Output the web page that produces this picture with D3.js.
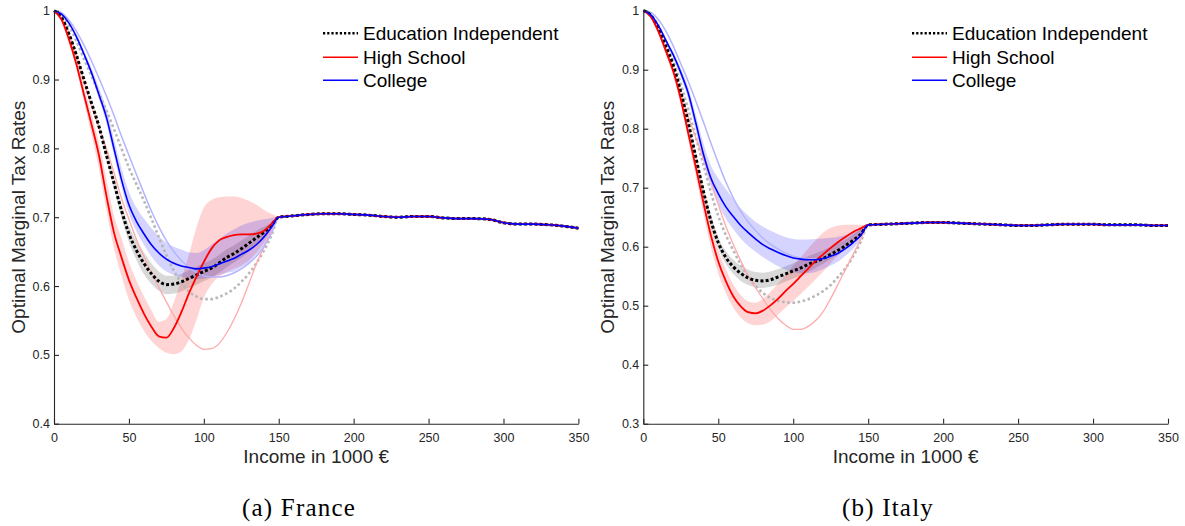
<!DOCTYPE html>
<html>
<head>
<meta charset="utf-8">
<script src="https://cdn.jsdelivr.net/npm/d3@7"></script>
<style>
  html, body { margin: 0; padding: 0; background: #fff; }
  svg { display: block; }
  text { font-family: "Liberation Sans", Arial, Helvetica, sans-serif; }
</style>
</head>
<body>
<svg id="chart" width="1185" height="526"></svg>
<script>
// Income grid (thousand euro) where the schedules differ, and the common upper tail
const incomeHead = [0, 5, 10, 15, 20, 25, 30, 35, 40, 45, 50, 55, 60, 65, 70, 75, 80, 85, 90, 95, 100, 105, 110, 115, 120, 125, 130, 135, 140, 145, 150];
const incomeTail = [160, 170, 180, 190, 200, 210, 220, 230, 240, 250, 260, 270, 280, 290, 300, 310, 320, 330, 340, 350];

const xTicks = [0, 50, 100, 150, 200, 250, 300, 350];
const yTicksFrance = [0.4, 0.5, 0.6, 0.7, 0.8, 0.9, 1];
const yTicksItaly = [0.3, 0.4, 0.5, 0.6, 0.7, 0.8, 0.9, 1];

const legendLabels = ["Education Independent", "High School", "College"];
const panelCaptions = ["(a) France", "(b) Italy"];
const xAxisTitle = "Income in 1000 €";
const yAxisTitle = "Optimal Marginal Tax Rates";

// ---- France ----
const frTail = [0.702, 0.704, 0.705, 0.705, 0.704, 0.703, 0.701, 0.700, 0.701, 0.701, 0.699, 0.698, 0.698, 0.697, 0.692, 0.690, 0.690, 0.689, 0.687, 0.684];
const frEduIndep = [1, .99, .966, .935, .9, .866, .832, .79, .75, .71, .676, .652, .633, .618, .607, .602, .603, .606, .611, .616, .621, .626, .633, .641, .647, .654, .662, .67, .678, .688, .70];
const frHighSchool = [1, .987, .958, .922, .878, .835, .79, .731, .678, .642, .609, .583, .56, .541, .527, .525, .539, .562, .589, .613, .635, .654, .666, .671, .674, .675, .675, .676, .68, .69, .70];
const frCollege = [1, .995, .982, .962, .937, .91, .878, .845, .8, .755, .718, .694, .676, .66, .648, .639, .633, .629, .627, .625, .626, .628, .632, .636, .64, .646, .652, .66, .671, .685, .70];
// alternative scenario (faint curves)
const frEduIndepAlt = [1, .995, .978, .956, .93, .905, .88, .855, .828, .8, .772, .748, .724, .698, .671, .645, .622, .605, .592, .585, .581, .581, .584, .589, .596, .606, .618, .633, .651, .673, .70];
const frHighSchoolAlt = [1, .99, .967, .935, .898, .862, .83, .80, .765, .728, .697, .668, .643, .62, .598, .577, .557, .539, .525, .514, .508, .509, .516, .531, .551, .575, .603, .632, .656, .68, .70];
const frCollegeAlt = [1, .997, .986, .97, .95, .927, .902, .876, .848, .818, .79, .762, .735, .709, .686, .666, .65, .637, .627, .62, .615, .613, .613, .615, .619, .625, .633, .643, .657, .676, .70];
// confidence bands
const frEduIndepLo = [1, .99, .966, .935, .9, .864, .828, .784, .742, .7, .664, .638, .617, .603, .593, .588, .589, .592, .597, .602, .607, .612, .619, .627, .634, .641, .65, .659, .669, .684, .70];
const frEduIndepHi = [1, .99, .966, .935, .9, .868, .836, .796, .758, .72, .688, .666, .649, .633, .621, .615, .615, .618, .623, .628, .633, .638, .645, .653, .659, .666, .673, .68, .686, .692, .70];
const frHighSchoolLo = [1, .987, .955, .915, .868, .82, .77, .71, .655, .615, .58, .555, .535, .52, .51, .503, .501, .505, .522, .55, .583, .602, .613, .62, .625, .63, .637, .648, .662, .68, .70];
const frHighSchoolHi = [1, .988, .962, .93, .89, .85, .808, .755, .703, .67, .635, .608, .585, .565, .548, .552, .577, .61, .645, .685, .714, .725, .729, .730, .730, .728, .724, .718, .711, .705, .70];
const frCollegeLo = [1, .995, .981, .96, .934, .905, .872, .836, .79, .745, .705, .68, .66, .643, .63, .621, .616, .613, .611, .61, .611, .613, .616, .619, .621, .627, .634, .645, .658, .677, .70];
const frCollegeHi = [1, .996, .984, .966, .942, .917, .888, .857, .814, .772, .737, .714, .698, .684, .672, .663, .657, .653, .649, .648, .652, .66, .668, .676, .682, .688, .692, .695, .697, .699, .70];

// ---- Italy ----
const itTail = [0.638, 0.639, 0.640, 0.641, 0.641, 0.640, 0.639, 0.638, 0.637, 0.636, 0.636, 0.637, 0.638, 0.638, 0.638, 0.637, 0.637, 0.637, 0.636, 0.636];
const itEduIndep = [1, .992, .97, .94, .907, .862, .81, .752, .695, .645, .607, .582, .566, .555, .547, .543, .542, .544, .549, .554, .559, .564, .57, .575, .58, .587, .594, .602, .611, .621, .637];
const itHighSchool = [1, .99, .965, .932, .897, .85, .792, .735, .676, .62, .575, .542, .516, .499, .489, .487, .492, .501, .512, .525, .537, .55, .563, .576, .587, .598, .608, .617, .625, .631, .637];
const itCollege = [1, .993, .975, .95, .925, .895, .86, .81, .758, .717, .69, .668, .651, .636, .624, .613, .603, .596, .59, .585, .581, .579, .578, .578, .58, .584, .589, .597, .607, .619, .637];
const itEduIndepAlt = [1, .993, .975, .948, .915, .876, .832, .786, .74, .693, .652, .62, .594, .57, .549, .533, .521, .513, .508, .506, .505, .507, .511, .517, .525, .535, .549, .564, .584, .608, .637];
const itHighSchoolAlt = [1, .99, .968, .937, .9, .86, .82, .785, .75, .713, .672, .635, .604, .576, .551, .53, .511, .493, .478, .467, .46, .46, .465, .475, .49, .512, .537, .562, .587, .612, .637];
const itCollegeAlt = [1, .997, .985, .966, .94, .91, .88, .847, .812, .776, .742, .71, .683, .66, .642, .627, .614, .604, .596, .589, .584, .581, .579, .579, .58, .583, .589, .597, .607, .619, .637];
const itEduIndepLo = [1, .992, .97, .94, .906, .86, .806, .746, .687, .636, .597, .571, .554, .542, .535, .531, .53, .532, .536, .541, .546, .551, .557, .564, .571, .579, .587, .596, .606, .618, .637];
const itEduIndepHi = [1, .992, .97, .94, .908, .864, .814, .758, .703, .654, .617, .593, .578, .568, .561, .557, .556, .558, .562, .567, .572, .578, .584, .589, .594, .6, .606, .612, .621, .63, .637];
const itHighSchoolLo = [1, .989, .962, .927, .89, .84, .78, .72, .658, .6, .555, .522, .497, .48, .47, .467, .468, .474, .485, .497, .508, .52, .532, .545, .558, .572, .585, .598, .61, .622, .637];
const itHighSchoolHi = [1, .991, .968, .937, .904, .86, .804, .75, .694, .64, .595, .562, .536, .518, .507, .505, .512, .524, .538, .553, .568, .582, .597, .611, .624, .632, .636, .637, .637, .637, .637];
const itCollegeLo = [1, .993, .974, .948, .92, .888, .85, .797, .745, .702, .672, .648, .63, .614, .601, .591, .582, .574, .567, .561, .557, .555, .555, .557, .562, .568, .575, .585, .597, .612, .637];
const itCollegeHi = [1, .994, .977, .953, .93, .902, .87, .824, .776, .738, .716, .698, .681, .665, .653, .642, .634, .627, .621, .616, .613, .612, .612, .613, .614, .615, .617, .62, .624, .63, .637];

const svg = d3.select("#chart");
const AXIS_COLOR = "#262626";

function drawPanel(p) {
  const x = d3.scaleLinear().domain([0, 350]).range([p.left, p.right]);
  const y = d3.scaleLinear().domain(p.yDomain).range([p.bottom, p.top]);
  const g = svg.append("g");

  const fullX = incomeHead.concat(incomeTail);
  const line = d3.line().x(d => x(d[0])).y(d => y(d[1])).curve(d3.curveMonotoneX);
  const area = d3.area().x(d => x(d[0])).y0(d => y(d[1])).y1(d => y(d[2])).curve(d3.curveMonotoneX);
  const bandPts = (lo, hi) => incomeHead.map((v, i) => [v, lo[i], hi[i]]);
  const seriesPts = head => fullX.map((v, i) => [v, i < head.length ? head[i] : p.tail[i - head.length]]);

  // shaded bands
  g.append("path").attr("d", area(bandPts(p.eiLo, p.eiHi))).attr("fill", "#000").attr("fill-opacity", 0.15);
  g.append("path").attr("d", area(bandPts(p.hsLo, p.hsHi))).attr("fill", "#ff0000").attr("fill-opacity", 0.17);
  g.append("path").attr("d", area(bandPts(p.coLo, p.coHi))).attr("fill", "#0000ff").attr("fill-opacity", 0.17);

  // faint alternative curves
  g.append("path").attr("d", line(seriesPts(p.eiAlt))).attr("fill", "none")
    .attr("stroke", "#b8b8b8").attr("stroke-width", 2.6).attr("stroke-dasharray", "2.6,2.6");
  g.append("path").attr("d", line(seriesPts(p.hsAlt))).attr("fill", "none")
    .attr("stroke", "#ffaaaa").attr("stroke-width", 1.3);
  g.append("path").attr("d", line(seriesPts(p.coAlt))).attr("fill", "none")
    .attr("stroke", "#b4b4ff").attr("stroke-width", 1.5);

  // main curves
  g.append("path").attr("d", line(seriesPts(p.ei))).attr("fill", "none")
    .attr("stroke", "#000").attr("stroke-width", 3).attr("stroke-dasharray", "3,2.2");
  g.append("path").attr("d", line(seriesPts(p.hs))).attr("fill", "none")
    .attr("stroke", "#ff0000").attr("stroke-width", 1.8);
  g.append("path").attr("d", line(seriesPts(p.co))).attr("fill", "none")
    .attr("stroke", "#0000ff").attr("stroke-width", 1.6);

  // axes
  const xAxis = d3.axisBottom(x).tickValues(xTicks).tickSizeInner(-5).tickSizeOuter(0).tickPadding(9).tickFormat(d3.format("d"));
  const yAxis = d3.axisLeft(y).tickValues(p.yTicks).tickSizeInner(-5).tickSizeOuter(0).tickPadding(4)
    .tickFormat(d => d === 1 ? "1" : d3.format(".1f")(d));
  const gx = g.append("g").attr("transform", `translate(0,${p.bottom})`).call(xAxis);
  const gy = g.append("g").attr("transform", `translate(${p.left},0)`).call(yAxis);
  [gx, gy].forEach(a => {
    a.selectAll("path, line").attr("stroke", AXIS_COLOR).attr("stroke-width", 1.1);
    a.selectAll("text").attr("fill", AXIS_COLOR).style("font-size", "12.5px")
      .style("font-family", "'Liberation Sans', Arial, sans-serif");
  });

  // axis titles
  g.append("text").attr("x", (p.left + p.right) / 2).attr("y", 463.3)
    .attr("text-anchor", "middle").attr("fill", AXIS_COLOR).style("font-size", "19px").text(xAxisTitle);
  g.append("text").attr("transform", `translate(${p.left - 29},${(p.top + p.bottom) / 2}) rotate(-90)`)
    .attr("text-anchor", "middle").attr("fill", AXIS_COLOR).style("font-size", "19px").text(yAxisTitle);

  // legend
  const legendStyles = [
    { stroke: "#000", width: 2.6, dash: "2.2,2" },
    { stroke: "#ff0000", width: 1.5, dash: null },
    { stroke: "#0000ff", width: 1.5, dash: null }
  ];
  const rowY = [33.3, 57.3, 80.3];
  legendLabels.forEach((lab, i) => {
    const s = legendStyles[i];
    const l = g.append("line").attr("x1", p.legendX).attr("x2", p.legendX + 35)
      .attr("y1", rowY[i]).attr("y2", rowY[i]).attr("stroke", s.stroke).attr("stroke-width", s.width);
    if (s.dash) l.attr("stroke-dasharray", s.dash);
    g.append("text").attr("x", p.legendX + 40).attr("y", rowY[i] + 6.8)
      .attr("fill", "#000").style("font-size", "19px").text(lab);
  });

  // caption
  g.append("text").attr("x", p.captionX).attr("y", 516).attr("text-anchor", "middle")
    .style("font-family", "'Liberation Serif', 'Times New Roman', serif").style("font-size", "25px")
    .style("letter-spacing", "1.2px").attr("fill", "#000").text(p.caption);
}

drawPanel({
  left: 54, right: 578.4, top: 10.7, bottom: 423.7, yDomain: [0.4, 1], yTicks: yTicksFrance,
  tail: frTail, ei: frEduIndep, hs: frHighSchool, co: frCollege,
  eiAlt: frEduIndepAlt, hsAlt: frHighSchoolAlt, coAlt: frCollegeAlt,
  eiLo: frEduIndepLo, eiHi: frEduIndepHi, hsLo: frHighSchoolLo, hsHi: frHighSchoolHi, coLo: frCollegeLo, coHi: frCollegeHi,
  legendX: 323, caption: panelCaptions[0], captionX: 299
});

drawPanel({
  left: 643.3, right: 1168, top: 10.7, bottom: 423.7, yDomain: [0.3, 1], yTicks: yTicksItaly,
  tail: itTail, ei: itEduIndep, hs: itHighSchool, co: itCollege,
  eiAlt: itEduIndepAlt, hsAlt: itHighSchoolAlt, coAlt: itCollegeAlt,
  eiLo: itEduIndepLo, eiHi: itEduIndepHi, hsLo: itHighSchoolLo, hsHi: itHighSchoolHi, coLo: itCollegeLo, coHi: itCollegeHi,
  legendX: 912, caption: panelCaptions[1], captionX: 888
});
</script>
</body>
</html>
